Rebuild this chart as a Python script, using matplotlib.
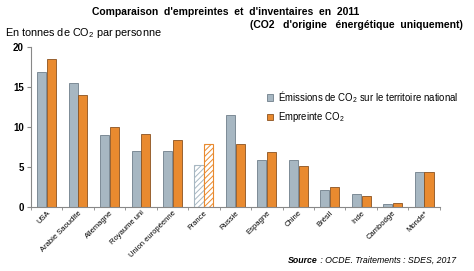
import matplotlib
matplotlib.use("Agg")
import matplotlib.pyplot as plt
from matplotlib.patches import Patch
import numpy as np

plt.rcParams["font.family"] = ["Liberation Sans", "DejaVu Sans"]
plt.rcParams["mathtext.fontset"] = "custom"
plt.rcParams["mathtext.rm"] = "Liberation Sans"
plt.rcParams["mathtext.it"] = "Liberation Sans:italic"
plt.rcParams["mathtext.bf"] = "Liberation Sans:bold"
plt.rcParams["hatch.linewidth"] = 0.7

categories = ["USA", "Arabie Saoudite", "Allemagne", "Royaume uni", "Union européenne",
              "France", "Russie", "Espagne", "Chine", "Brésil", "Inde", "Cambodge", "Monde*"]
emissions = [16.8, 15.5, 9.0, 7.0, 7.0, 5.2, 11.5, 5.8, 5.8, 2.1, 1.55, 0.3, 4.35]
empreinte = [18.4, 13.9, 10.0, 9.1, 8.3, 7.8, 7.8, 6.9, 5.1, 2.45, 1.4, 0.5, 4.35]
yticks = [0, 5, 10, 15, 20]

grey = "#a7b7c2"
grey_e = "#6f7f8a"
orange = "#e98a2f"
orange_e = "#8a5220"

fig = plt.figure(figsize=(4.74, 2.71), dpi=100)
ax = fig.add_axes([0.065, 0.237, 0.863, 0.591])
x = np.arange(len(categories))
w = 0.29
for i in range(len(categories)):
    if categories[i] == "France":
        ax.bar(x[i] - 0.155, emissions[i], w, facecolor="white", edgecolor=grey, hatch="//////", linewidth=0.8)
        ax.bar(x[i] + 0.155, empreinte[i], w, facecolor="white", edgecolor=orange, hatch="//////", linewidth=0.8)
    else:
        ax.bar(x[i] - 0.155, emissions[i], w, color=grey, edgecolor=grey_e, linewidth=0.6)
        ax.bar(x[i] + 0.155, empreinte[i], w, color=orange, edgecolor=orange_e, linewidth=0.6)

ax.set_xlim(-0.5, len(categories) - 0.5)
ax.set_ylim(0, 20)
ax.set_yticks(yticks)
ax.set_yticklabels([str(t) for t in yticks], fontsize=7, fontweight="bold")
ax.set_xticks(x)
ax.set_xticklabels(categories, rotation=45, ha="right", rotation_mode="anchor", fontsize=5.5)
ax.tick_params(axis="x", length=0, pad=2)
ax.set_xticks(np.arange(-0.5, len(categories), 1), minor=True)
ax.tick_params(axis="x", which="minor", length=2, color="#888888")
ax.tick_params(axis="y", length=3, color="#888888", pad=2)
for s in ["top", "right"]:
    ax.spines[s].set_visible(False)
for s in ["left", "bottom"]:
    ax.spines[s].set_color("#888888")
    ax.spines[s].set_linewidth(0.8)

handles = [Patch(facecolor=grey, edgecolor=grey_e, linewidth=0.6),
           Patch(facecolor=orange, edgecolor=orange_e, linewidth=0.6)]
labels = ["Émissions de CO$_2$ sur le territoire national", "Empreinte CO$_2$"]
ax.legend(handles, labels, loc="upper left", bbox_to_anchor=(0.568, 0.76), frameon=False, fontsize=6.9,
          handlelength=0.6, handleheight=0.6, handletextpad=0.5, labelspacing=0.6, borderaxespad=0)

fig.text(0.475, 0.956, "Comparaison  d'empreintes  et  d'inventaires  en  2011",
         ha="center", va="center", fontsize=7.5, fontweight="bold")
fig.text(0.977, 0.908, "(CO2   d'origine   énergétique  uniquement)",
         ha="right", va="center", fontsize=7.5, fontweight="bold")
fig.text(0.01, 0.877, "En tonnes de CO$_2$ par personne", ha="left", va="center", fontsize=7.8)
t1 = fig.text(0.608, 0.03, "Source", ha="left", va="baseline", fontsize=6.3,
              style="italic", fontweight="bold")
t2 = fig.text(0.7, 0.03, " : OCDE. Traitements : SDES, 2017", fontsize=6.3, style="italic",
              ha="left", va="baseline")
fig.canvas.draw()
bb = t1.get_window_extent()
t2.set_position((bb.x1 / fig.bbox.width, 0.03))
fig.savefig("out.png", dpi=100)
